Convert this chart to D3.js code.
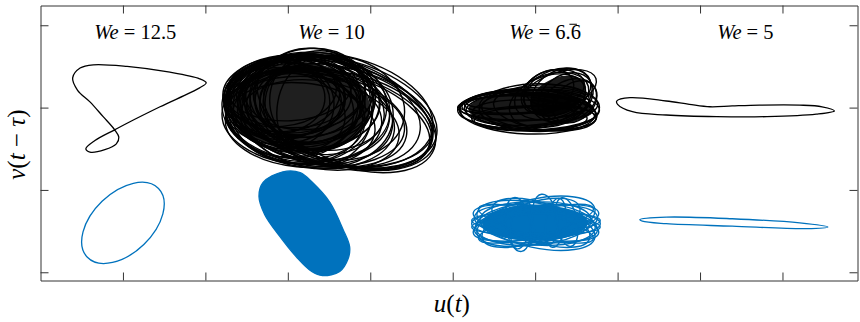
<!DOCTYPE html>
<html>
<head>
<meta charset="utf-8">
<script src="https://cdn.jsdelivr.net/npm/d3@7"></script>
<style>
  body { margin: 0; background: #fff; }
</style>
</head>
<body>
<div id="chart"></div>
<script>
// tick positions (no tick labels in the figure)
const xTicks = [1, 2, 3, 4, 5, 6, 7, 8, 9];
const yTicks = [0, 1, 2, 3];

// panel titles
const weLabels = ["12.5", "10", "6.6", "5"];
const weRepeating = [false, false, true, false];
const weLabelU = [1.15, 3.53, 6.12, 8.55];
const weLabelV = 2.83;

// We = 12.5 : limit cycles
const we125Black = [
  [0.39, 2.36], [0.48, 2.48], [0.64, 2.52], [1.05, 2.50], [1.57, 2.43], [1.93, 2.35],
  [2.01, 2.30], [1.93, 2.24], [1.45, 2.01], [1.05, 1.81], [0.90, 1.73], [0.66, 1.60],
  [0.55, 1.50], [0.60, 1.46], [0.78, 1.49], [0.92, 1.56], [0.95, 1.64], [0.90, 1.73],
  [0.76, 1.89], [0.60, 2.07], [0.45, 2.21]
];
// [u, v, ru, rv, tilt]
const we125Blue = [[1.00, 0.60, 0.60, 0.365, -44]];

// We = 10 : chaotic orbit loops [u, v, ru, rv, tilt]
const we10Black = [
  [3.15, 2.09, 0.91, 0.54, 0], [3.09, 2.03, 0.85, 0.58, 5], [3.21, 2.12, 0.82, 0.48, -5],
  [3.02, 2.15, 0.75, 0.46, 0], [3.27, 1.97, 0.97, 0.60, 8], [3.15, 1.95, 0.87, 0.63, 3],
  [2.96, 2.07, 0.73, 0.51, -8], [3.33, 2.03, 0.85, 0.53, 12], [3.21, 2.15, 0.67, 0.51, 0],
  [3.12, 1.87, 0.79, 0.54, 5], [2.90, 2.19, 0.69, 0.42, -5], [2.96, 2.12, 0.73, 0.36, 5],
  [3.02, 2.24, 0.75, 0.40, -3], [3.27, 2.15, 0.67, 0.57, 0], [3.39, 2.09, 0.61, 0.60, 0],
  [3.45, 1.97, 0.58, 0.67, 10], [3.63, 1.95, 1.21, 0.63, 15], [3.69, 1.91, 1.15, 0.60, 18],
  [3.57, 1.97, 1.21, 0.67, 12], [3.75, 1.87, 1.09, 0.58, 20], [3.51, 1.91, 1.27, 0.60, 10],
  [3.63, 1.85, 1.15, 0.58, 12], [3.27, 1.85, 1.03, 0.58, 8], [3.39, 1.79, 0.97, 0.53, 10],
  [3.15, 1.79, 0.91, 0.51, 5], [3.33, 1.83, 1.09, 0.54, 6], [3.05, 2.00, 0.80, 0.60, -3],
  [3.17, 2.07, 0.95, 0.57, 2], [3.00, 1.95, 0.70, 0.48, 10], [3.29, 2.09, 0.75, 0.63, -4],
  [3.69, 1.95, 1.12, 0.60, 22], [3.58, 1.87, 1.19, 0.56, 14], [3.10, 2.14, 0.85, 0.48, -10],
  [3.36, 1.95, 0.92, 0.68, 6], [2.93, 2.04, 0.63, 0.54, 0], [3.22, 1.99, 1.02, 0.65, 4],
  [3.09, 2.09, 0.82, 0.53, 2], [3.21, 2.03, 0.90, 0.56, -2], [3.02, 1.97, 0.78, 0.58, 6],
  [3.27, 2.12, 0.80, 0.54, -6], [3.15, 2.00, 0.73, 0.48, 0], [2.96, 2.15, 0.67, 0.44, -4],
  [3.33, 1.91, 0.95, 0.58, 10], [3.45, 2.03, 0.75, 0.60, 4], [3.09, 1.91, 0.85, 0.53, 8],
  [3.21, 2.19, 0.73, 0.46, -2], [3.39, 1.87, 1.07, 0.56, 12], [3.51, 1.95, 1.12, 0.63, 14],
  [3.02, 2.07, 0.63, 0.41, 0], [3.27, 2.03, 0.61, 0.54, 0], [3.15, 2.09, 0.55, 0.42, -5],
  [2.90, 2.09, 0.61, 0.48, 5], [3.57, 2.00, 0.85, 0.63, 8], [3.69, 1.85, 1.07, 0.53, 18],
  [2.84, 2.12, 0.61, 0.44, 0], [3.17, 1.87, 0.97, 0.56, 4]
];
const we10BlackCore = [[3.16, 2.01, 0.84, 0.54, 3]];
const we10Blue = [
  [2.94, 1.22], [3.15, 1.21], [3.30, 1.09], [3.51, 0.85], [3.67, 0.52], [3.75, 0.31],
  [3.73, 0.16], [3.63, 0.01], [3.42, -0.04], [3.29, 0.01], [3.11, 0.18], [2.90, 0.44],
  [2.72, 0.70], [2.65, 0.92], [2.70, 1.09]
];

// We = 6.6 (repeating) : quasi-periodic loops [u, v, ru, rv, tilt]
const we66Black = [
  [5.93, 1.97, 0.85, 0.24, 0], [5.91, 1.95, 0.82, 0.27, 2], [5.96, 2.00, 0.80, 0.22, -3],
  [5.99, 1.91, 0.75, 0.18, 3], [5.87, 2.03, 0.79, 0.19, -2], [5.93, 1.87, 0.70, 0.15, 0],
  [6.05, 1.95, 0.70, 0.22, 5], [5.84, 2.00, 0.78, 0.15, 0], [5.87, 2.09, 0.73, 0.15, -4],
  [5.99, 2.03, 0.67, 0.24, -6], [6.27, 2.19, 0.42, 0.27, -20], [6.32, 2.15, 0.39, 0.30, -30],
  [6.20, 2.14, 0.46, 0.27, -15], [6.37, 2.12, 0.36, 0.27, -35], [6.15, 2.09, 0.48, 0.29, -20],
  [6.42, 2.09, 0.34, 0.24, -25], [6.24, 2.24, 0.36, 0.22, -10], [5.81, 1.95, 0.67, 0.19, 4],
  [6.12, 1.97, 0.63, 0.24, 8], [5.75, 2.04, 0.67, 0.12, -2], [6.15, 2.19, 0.34, 0.24, -30],
  [6.48, 2.07, 0.30, 0.22, -40], [6.30, 2.21, 0.46, 0.22, -18], [5.81, 1.97, 0.75, 0.22, 0],
  [5.99, 1.87, 0.73, 0.15, -2], [5.69, 2.04, 0.58, 0.12, -3], [5.72, 2.09, 0.56, 0.10, -3],
  [6.05, 2.00, 0.73, 0.29, 0]
];
const we66BlackCore = [[5.95, 1.98, 0.76, 0.21, 0], [6.28, 2.14, 0.36, 0.22, -25]];
const we66Blue = [
  [6.01, 0.59, 0.78, 0.17, 0], [6.01, 0.59, 0.75, 0.22, -6], [6.01, 0.59, 0.75, 0.22, 6],
  [6.01, 0.62, 0.73, 0.27, -12], [6.01, 0.57, 0.73, 0.27, 12], [5.98, 0.59, 0.70, 0.26, -4],
  [6.03, 0.59, 0.70, 0.26, 4], [6.01, 0.60, 0.77, 0.19, -9], [6.01, 0.60, 0.77, 0.19, 9],
  [6.01, 0.59, 0.72, 0.15, 15], [6.01, 0.59, 0.72, 0.15, -15], [6.01, 0.59, 0.78, 0.12, 3],
  [6.01, 0.59, 0.78, 0.12, -3], [5.79, 0.58, 0.15, 0.33, -8], [6.12, 0.64, 0.15, 0.31, -8],
  [6.38, 0.61, 0.13, 0.30, -11], [5.95, 0.60, 0.62, 0.24, -18], [6.07, 0.60, 0.62, 0.24, 18],
  [5.83, 0.58, 0.12, 0.30, 10], [6.25, 0.60, 0.12, 0.30, 8]
];
const we66BlueCore = [[6.00, 0.60, 0.64, 0.22, 0]];

// We = 5 : limit cycles
const we5Black = [
  [6.99, 2.08], [7.15, 2.12], [7.59, 2.08], [7.87, 2.04], [8.12, 2.01], [8.39, 2.02],
  [8.72, 2.03], [9.21, 2.03], [9.48, 2.01], [9.63, 1.96], [9.41, 1.92], [8.81, 1.89],
  [8.20, 1.89], [7.59, 1.91], [7.18, 1.95], [7.00, 2.04]
];
const we5Blue = [
  [7.27, 0.64], [7.59, 0.67], [8.39, 0.65], [9.21, 0.60], [9.55, 0.55], [9.29, 0.53],
  [8.39, 0.56], [7.59, 0.59], [7.30, 0.62]
];

const blue = "#0072BD";
const serif = "'Liberation Serif', 'Times New Roman', Times, serif";
const W = 860, H = 322;

const svg = d3.select("#chart").append("svg")
  .attr("width", W).attr("height", H)
  .attr("font-family", serif);

const x = d3.scaleLinear().domain([0, 9.91]).range([40.5, 857.5]);
const y = d3.scaleLinear().domain([-0.1, 3.24]).range([280.5, 5.5]);

const loop = d3.line()
  .x(d => x(d[0]))
  .y(d => y(d[1]))
  .curve(d3.curveCatmullRomClosed.alpha(0.5));

function drawLoop(pts, color, fill) {
  svg.append("path")
    .datum(pts)
    .attr("d", loop)
    .attr("fill", fill || "none")
    .attr("stroke", color)
    .attr("stroke-width", 1.3);
}

function drawEllipses(list, color, width, fill, fillOpacity) {
  svg.append("g")
    .selectAll("ellipse")
    .data(list)
    .join("ellipse")
    .attr("cx", d => x(d[0]))
    .attr("cy", d => y(d[1]))
    .attr("rx", d => x(d[0] + d[2]) - x(d[0]))
    .attr("ry", d => y(d[1]) - y(d[1] + d[3]))
    .attr("transform", d => `rotate(${d[4]},${x(d[0])},${y(d[1])})`)
    .attr("fill", fill || "none")
    .attr("fill-opacity", fillOpacity == null ? 1 : fillOpacity)
    .attr("stroke", fill ? "none" : color)
    .attr("stroke-width", width);
}

// trajectories
drawLoop(we125Black, "#000");
drawEllipses(we125Blue, blue, 1.3);
drawEllipses(we10BlackCore, "#000", 0, "#000", 0.88);
drawEllipses(we10Black, "#000", 1.4);
drawLoop(we10Blue, blue, blue);
drawEllipses(we66BlackCore, "#000", 0, "#000", 0.9);
drawEllipses(we66Black, "#000", 1.4);
drawEllipses(we66BlueCore, blue, 0, blue, 1);
drawEllipses(we66Blue, blue, 1.4);
drawLoop(we5Black, "#000");
drawLoop(we5Blue, blue);

// box with inward ticks on every side
const frame = "#333";
function styleAxis(g) {
  g.selectAll("path.domain").attr("stroke", frame);
  g.selectAll(".tick line").attr("stroke", frame);
  g.selectAll(".tick text").remove();
}
svg.append("g").attr("transform", `translate(0,${y(-0.1)})`)
  .call(d3.axisBottom(x).tickValues(xTicks).tickSize(-8).tickSizeOuter(0).tickFormat(""))
  .call(styleAxis);
svg.append("g").attr("transform", `translate(0,${y(3.24)})`)
  .call(d3.axisTop(x).tickValues(xTicks).tickSize(-8).tickSizeOuter(0).tickFormat(""))
  .call(styleAxis);
svg.append("g").attr("transform", `translate(${x(0)},0)`)
  .call(d3.axisLeft(y).tickValues(yTicks).tickSize(-8).tickSizeOuter(0).tickFormat(""))
  .call(styleAxis);
svg.append("g").attr("transform", `translate(${x(9.91)},0)`)
  .call(d3.axisRight(y).tickValues(yTicks).tickSize(-8).tickSizeOuter(0).tickFormat(""))
  .call(styleAxis);

// panel titles
const titles = svg.append("g")
  .selectAll("text")
  .data(weLabels)
  .join("text")
  .attr("x", (d, i) => x(weLabelU[i]))
  .attr("y", y(weLabelV))
  .attr("text-anchor", "middle")
  .attr("font-family", serif)
  .style("font-size", "20.5px");
titles.append("tspan").style("font-style", "italic").text("We");
titles.append("tspan").text(d => " = " + d);

// bar over the repeating digit
titles.each(function (d, i) {
  if (!weRepeating[i]) return;
  const b = this.getBBox();
  const right = b.x + b.width;
  svg.append("line")
    .attr("x1", right - 11.5).attr("x2", right - 4)
    .attr("y1", y(weLabelV) - 15).attr("y2", y(weLabelV) - 15)
    .attr("stroke", "#000").attr("stroke-width", 1);
});

// axis labels
const xl = svg.append("text")
  .attr("x", x(4.99))
  .attr("y", 312)
  .attr("text-anchor", "middle")
  .attr("font-family", serif)
  .style("font-size", "25px");
xl.append("tspan").style("font-style", "italic").text("u");
xl.append("tspan").text("(");
xl.append("tspan").style("font-style", "italic").text("t");
xl.append("tspan").text(")");

const yl = svg.append("text")
  .attr("transform", `translate(25,${y(1.55)}) rotate(-90)`)
  .attr("text-anchor", "middle")
  .attr("font-family", serif)
  .style("font-size", "25px");
yl.append("tspan").style("font-style", "italic").text("v");
yl.append("tspan").text("(");
yl.append("tspan").style("font-style", "italic").text("t");
yl.append("tspan").text(" \u2212 ");
yl.append("tspan").style("font-style", "italic").text("\u03c4");
yl.append("tspan").text(")");
</script>
</body>
</html>
